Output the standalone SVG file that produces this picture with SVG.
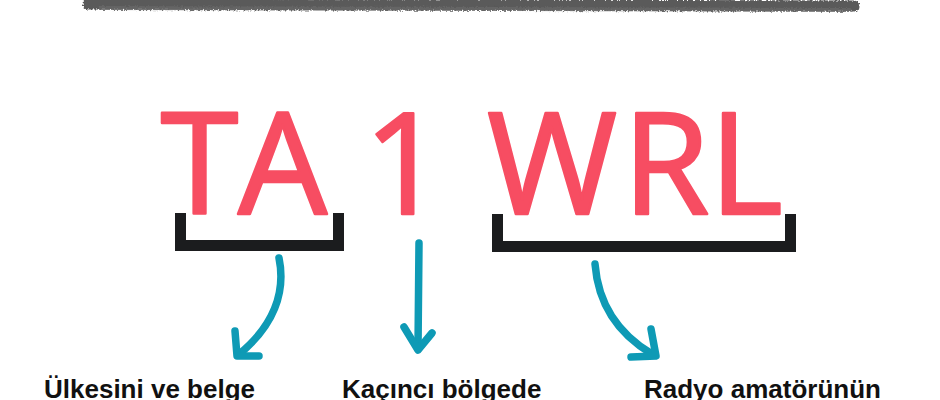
<svg xmlns="http://www.w3.org/2000/svg" width="940" height="400" viewBox="0 0 940 400">
<defs>
<filter id="rough" x="-2%" y="-100%" width="104%" height="300%">
<feTurbulence type="fractalNoise" baseFrequency="0.6" numOctaves="2" seed="3" result="n"/>
<feDisplacementMap in="SourceGraphic" in2="n" scale="4" xChannelSelector="R" yChannelSelector="G"/>
</filter>
</defs>
<style>
.big{font-family:"Open Sans","Liberation Sans",sans-serif;font-size:141px;fill:#f74d62;stroke:#f74d62;stroke-width:2.5;stroke-linejoin:round;text-anchor:middle}
.lbl{font-family:"Liberation Sans",Arial,sans-serif;font-weight:bold;font-size:26px;fill:#111}
.br{fill:none;stroke:#1b1c1e;stroke-width:11;stroke-linecap:butt;stroke-linejoin:miter}
.ar{fill:none;stroke:#0e9ab5;stroke-width:7.5;stroke-linecap:round;stroke-linejoin:round}
</style>
<rect width="940" height="400" fill="#fff"/>
<g id="topline" filter="url(#rough)">
<path d="M88 4 L854 6" stroke="#5a5a5a" stroke-width="11" stroke-linecap="round" fill="none"/>
<path d="M100 8 L850 10" stroke="#6a6a6a" stroke-width="4" stroke-linecap="round" fill="none" opacity="0.7"/>
</g>
<g id="node-ta">
<text class="big" x="199.5" y="214">T</text>
<text class="big" x="282.5" y="214">A</text>
<path class="br" d="M180.5 213 V245.5 H338.5 V213"/>
</g>
<g id="node-1">
<text class="big" x="404" y="214">1</text>
</g>
<g id="node-wrl">
<text class="big" x="552" y="214">W</text>
<text class="big" x="666" y="214">R</text>
<text class="big" x="746" y="214">L</text>
<path class="br" d="M497.5 214 V246.5 H790.5 V214"/>
</g>
<g id="connectors">
<path class="ar" d="M279 258 C286 292 274 326 238 355"/>
<path class="ar" d="M235 331 L237 356 L259 356"/>
<path class="ar" d="M419 243 L418 349"/>
<path class="ar" d="M404 327 L418 350 L432 333"/>
<path class="ar" d="M595 264 C598 302 615 332 652 354"/>
<path class="ar" d="M651 329 L656 356 L631 357"/>
</g>
<g id="label-1"><text class="lbl" x="44" y="398">Ülkesini ve belge</text></g>
<g id="label-2"><text class="lbl" x="342" y="398">Kaçıncı bölgede</text></g>
<g id="label-3"><text class="lbl" x="644" y="398">Radyo amatörünün</text></g>
</svg>
